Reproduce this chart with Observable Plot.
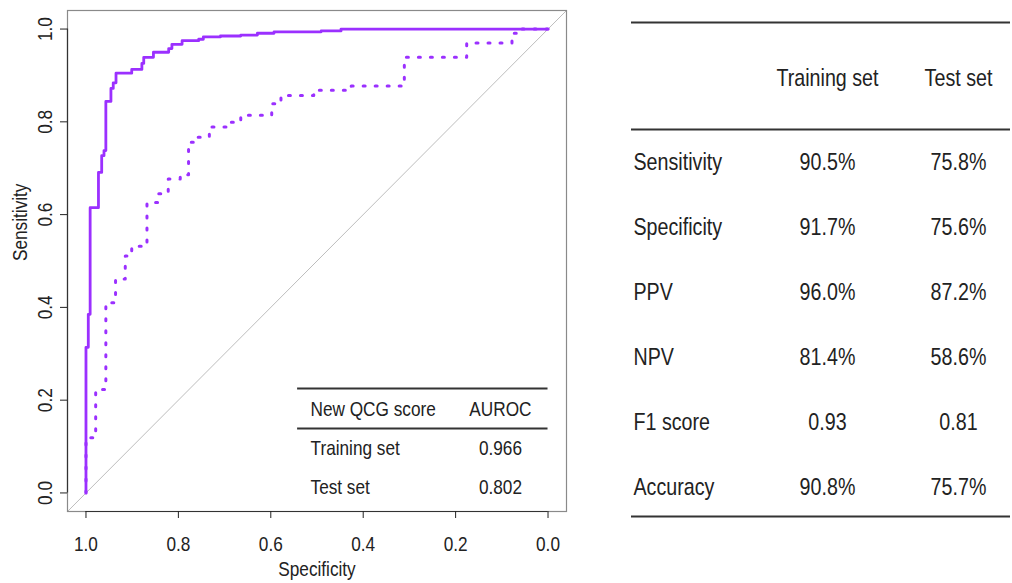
<!DOCTYPE html>
<html><head><meta charset="utf-8">
<script src="https://cdn.jsdelivr.net/npm/d3@7"></script>
<script src="https://cdn.jsdelivr.net/npm/@observablehq/plot@0.6"></script>
<style>
body{margin:0;background:#fff;}
#wrap{position:relative;width:1012px;height:583px;overflow:hidden;background:#fff;}
#roc{position:absolute;left:0;top:0;}
#tbl{position:absolute;left:600px;top:0;}
</style></head><body><div id="wrap"><div id="roc"></div><div id="tbl"></div></div>
<script>
// ---------- ROC data (specificity, sensitivity vertices, step curve) ----------
const trainSpec = [1.0, 1.0, 0.995, 0.991, 0.973, 0.966, 0.961, 0.957, 0.946, 0.941, 0.935, 0.901, 0.879, 0.875, 0.854, 0.821, 0.814, 0.792, 0.756, 0.746, 0.709, 0.665, 0.629, 0.593, 0.491, 0.448, 0.0];
const trainSens = [0.0, 0.314, 0.385, 0.615, 0.691, 0.727, 0.738, 0.844, 0.872, 0.884, 0.905, 0.913, 0.926, 0.939, 0.950, 0.958, 0.967, 0.975, 0.978, 0.983, 0.985, 0.987, 0.991, 0.994, 0.996, 1.0, 1.0];
const testSpec = [1.0, 1.0, 0.979, 0.957, 0.936, 0.915, 0.901, 0.868, 0.843, 0.822, 0.796, 0.778, 0.760, 0.733, 0.694, 0.665, 0.598, 0.578, 0.507, 0.426, 0.311, 0.176, 0.078, 0.063, 0.0];
const testSens = [0.0, 0.119, 0.223, 0.410, 0.461, 0.511, 0.532, 0.626, 0.645, 0.677, 0.686, 0.756, 0.767, 0.789, 0.799, 0.814, 0.839, 0.857, 0.868, 0.877, 0.939, 0.970, 0.991, 1.0, 1.0];

const xTicks = [1.0, 0.8, 0.6, 0.4, 0.2, 0.0];
const yTicks = [0.0, 0.2, 0.4, 0.6, 0.8, 1.0];

// legend table inside the ROC panel
const legendHeader = ["New QCG score", "AUROC"];
const legendRows = ["Training set", "Test set"];
const aurocValues = ["0.966", "0.802"];

// right-hand table
const tableColumns = ["Training set", "Test set"];
const metricNames = ["Sensitivity", "Specificity", "PPV", "NPV", "F1 score", "Accuracy"];
const trainMetrics = ["90.5%", "91.7%", "96.0%", "81.4%", "0.93", "90.8%"];
const testMetrics = ["75.8%", "75.6%", "87.2%", "58.6%", "0.81", "75.7%"];

// ---------- styling / layout ----------
const purple = "#9b30ff";
const ink = "#222";
const font = "'Liberation Sans', Arial, Helvetica, sans-serif";
const xDomain = [1.04, -0.04], yDomain = [-0.04, 1.04];
const legendLayout = {x1: 0.542, x2: 0.0, labelX: 0.514, valueX: 0.103, rules: [0.225, 0.139], headerY: 0.180, rowY: [0.096, 0.012]};
const fmt = d3.format(".1f");

const trainData = trainSpec.map((s, i) => ({spec: s, sens: trainSens[i]}));
const testData = testSpec.map((s, i) => ({spec: s, sens: testSens[i]}));
const diag = xDomain.map(s => ({spec: s, sens: 1 - s}));
const legendData = legendRows.map((r, i) => ({label: r, value: aurocValues[i], y: legendLayout.rowY[i]}));

const roc = Plot.plot({
  width: 600, height: 583,
  marginLeft: 67, marginRight: 34, marginTop: 10, marginBottom: 72,
  x: {domain: xDomain, label: null},
  y: {domain: yDomain, label: null},
  style: {fontFamily: font, color: ink, background: "white", overflow: "visible"},
  marks: [
    Plot.line(diag, {x: "spec", y: "sens", stroke: "#bdbdbd", strokeWidth: 1}),
    Plot.line(testData, {x: "spec", y: "sens", curve: "step-after", stroke: purple, strokeWidth: 3, strokeDasharray: "2,10", strokeLinecap: "round"}),
    Plot.line(trainData, {x: "spec", y: "sens", curve: "step-after", stroke: purple, strokeWidth: 2.8}),
    Plot.frame({stroke: "#8a8a8a", strokeWidth: 1.2}),
    Plot.ruleY([yDomain[0]], {x1: xTicks[0], x2: xTicks[xTicks.length - 1], stroke: "#333", strokeWidth: 1.2}),
    Plot.ruleX([xDomain[0]], {y1: yTicks[0], y2: yTicks[yTicks.length - 1], stroke: "#333", strokeWidth: 1.2}),
    Plot.axisX({ticks: xTicks, tickSize: 7, tickPadding: 18, tickFormat: fmt, fontSize: 21, label: null}),
    Plot.axisY({ticks: yTicks, tickSize: 7, tickPadding: 9, tickRotate: -90, tickFormat: fmt, fontSize: 21, label: null}),
    Plot.text(["Specificity"], {frameAnchor: "bottom", dy: 64, fontSize: 21}),
    Plot.text(["Sensitivity"], {frameAnchor: "left", dx: -47, rotate: -90, fontSize: 21}),
    // legend table
    Plot.ruleY(legendLayout.rules, {x1: legendLayout.x1, x2: legendLayout.x2, stroke: "#333", strokeWidth: 2}),
    Plot.text([legendHeader[0]], {x: legendLayout.labelX, y: legendLayout.headerY, textAnchor: "start", fontSize: 21}),
    Plot.text([legendHeader[1]], {x: legendLayout.valueX, y: legendLayout.headerY, fontSize: 21}),
    Plot.text(legendData, {x: legendLayout.labelX, y: "y", text: "label", textAnchor: "start", fontSize: 21}),
    Plot.text(legendData, {x: legendLayout.valueX, y: "y", text: "value", fontSize: 21})
  ]
});

const cells = metricNames.flatMap((m, i) => [
  {metric: m, set: tableColumns[0], value: trainMetrics[i]},
  {metric: m, set: tableColumns[1], value: testMetrics[i]}
]);

const tbl = Plot.plot({
  width: 412, height: 583,
  marginLeft: 31, marginRight: 2, marginTop: 0, marginBottom: 0,
  x: {type: "point", domain: tableColumns, range: [227, 358], padding: 0, axis: null},
  y: {type: "point", domain: metricNames, range: [161, 487], padding: 0, axis: null},
  style: {fontFamily: font, color: ink, background: "white", overflow: "visible"},
  marks: [
    Plot.ruleY([metricNames[0]], {dy: -140, stroke: "#333", strokeWidth: 2}),
    Plot.ruleY([metricNames[0]], {dy: -33, stroke: "#333", strokeWidth: 2}),
    Plot.ruleY([metricNames[metricNames.length - 1]], {dy: 29, stroke: "#333", strokeWidth: 2}),
    Plot.text(tableColumns, {x: d => d, y: () => metricNames[0], dy: -84, fontSize: 24}),
    Plot.text(metricNames, {y: d => d, frameAnchor: "left", textAnchor: "start", dx: 2, fontSize: 24}),
    Plot.text(cells, {x: "set", y: "metric", text: "value", fontSize: 24})
  ]
});

function condense(svg, k) {
  svg.querySelectorAll("text").forEach(t => {
    const tr = t.getAttribute("transform") || "";
    t.setAttribute("transform", (tr + " scale(" + k + ",1)").trim());
  });
}
condense(roc, 0.82);
condense(tbl, 0.82);
document.getElementById("roc").appendChild(roc);
document.getElementById("tbl").appendChild(tbl);
</script>
</body></html>
